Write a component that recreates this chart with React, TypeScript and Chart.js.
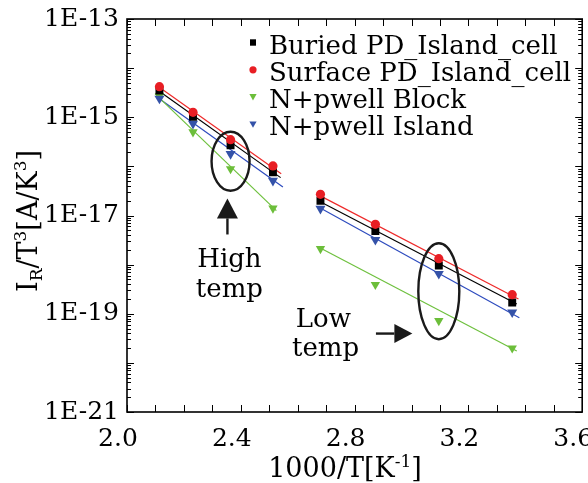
import React, { useEffect, useRef } from "react";
import { Chart, registerables } from "chart.js";

Chart.register(...registerables);

const FONT = '"DejaVu Serif", serif';

// 1000/T values (T = 473, 448, 423, 398, 373, 348, 323, 298 K)
const inverseT = [2.114, 2.232, 2.364, 2.513, 2.68, 2.873, 3.096, 3.354];

const buriedPD = [3.5e-15, 1.02e-15, 2.7e-16, 7.6e-17, 2.0e-17, 4.8e-18, 9.6e-19, 1.7e-19];
const surfacePD = [4.2e-15, 1.26e-15, 3.5e-16, 1.02e-16, 2.7e-17, 6.6e-18, 1.32e-18, 2.45e-19];
const npwellBlock = [2.7e-15, 5.0e-16, 8.9e-17, 1.4e-17, 2.1e-18, 3.9e-19, 7.2e-20, 2.0e-20];
const npwellIsland = [2.4e-15, 7.4e-16, 1.8e-16, 5.1e-17, 1.38e-17, 3.2e-18, 6.5e-19, 1.07e-19];

const seriesNames = [
  "Buried PD_Island_cell",
  "Surface PD_Island_cell",
  "N+pwell Block",
  "N+pwell Island",
];

// Fitted lines (start / end) for the high- and low-temperature ranges
const buriedFitHighX = [2.111, 2.54];
const buriedFitHighY = [3.47e-15, 5.9e-17];
const surfaceFitHighX = [2.111, 2.542];
const surfaceFitHighY = [4.17e-15, 7.1e-17];
const blockFitHighX = [2.099, 2.525];
const blockFitHighY = [3.0e-15, 1.26e-17];
const islandFitHighX = [2.105, 2.548];
const islandFitHighY = [2.57e-15, 3.8e-17];

const buriedFitLowX = [2.676, 3.37];
const buriedFitLowY = [1.95e-17, 1.58e-19];
const surfaceFitLowX = [2.676, 3.376];
const surfaceFitLowY = [2.57e-17, 2.0e-19];
const blockFitLowX = [2.676, 3.37];
const blockFitLowY = [2.24e-18, 1.74e-20];
const islandFitLowX = [2.676, 3.379];
const islandFitLowY = [1.45e-17, 8.3e-20];

const xTickValues = [2.0, 2.4, 2.8, 3.2, 3.6];
const xTickLabels = ["2.0", "2.4", "2.8", "3.2", "3.6"];
const yTickValues = [1e-21, 1e-19, 1e-17, 1e-15, 1e-13];
const yTickLabels = ["1E-21", "1E-19", "1E-17", "1E-15", "1E-13"];

const annotationTexts = ["High", "temp", "Low", "temp"];
const annotationTextX = [2.36, 2.36, 2.69, 2.698];
const annotationTextY = [8.75e-19, 2.2e-19, 5.4e-20, 1.36e-20];

const ellipseX = [2.364, 3.096];
const ellipseY = [1.27e-16, 2.88e-19];

const styles = [
  { color: "#000000", line: "#000000", pointStyle: "rect", radius: 5.6, rotation: 0, order: 2 },
  { color: "rgb(232,30,36)", line: "rgb(238,42,42)", pointStyle: "circle", radius: 4.6, rotation: 0, order: 1 },
  { color: "rgb(108,190,58)", line: "rgb(110,192,62)", pointStyle: "triangle", radius: 5.4, rotation: 180, order: 4 },
  { color: "rgb(52,82,168)", line: "rgb(45,75,190)", pointStyle: "triangle", radius: 5.8, rotation: 180, order: 3 },
];

type Seg = { t: string; dy?: number; small?: boolean };

function drawRich(ctx: CanvasRenderingContext2D, segs: Seg[], x: number, y: number, size: number) {
  const big = `${size}px ${FONT}`;
  const small = `${Math.round(size * 0.62)}px ${FONT}`;
  let total = 0;
  for (const s of segs) {
    ctx.font = s.small ? small : big;
    total += ctx.measureText(s.t).width;
  }
  let cx = x - total / 2;
  ctx.textAlign = "left";
  ctx.textBaseline = "alphabetic";
  for (const s of segs) {
    ctx.font = s.small ? small : big;
    ctx.fillText(s.t, cx, y + (s.dy || 0) * size);
    cx += ctx.measureText(s.t).width;
  }
}

function drawMarker(ctx: CanvasRenderingContext2D, kind: number, x: number, y: number) {
  const st = styles[kind];
  ctx.fillStyle = st.color;
  ctx.beginPath();
  if (st.pointStyle === "rect") {
    ctx.rect(x - 3, y - 3.2, 6, 6.4);
  } else if (st.pointStyle === "circle") {
    ctx.arc(x, y, 3.6, 0, Math.PI * 2);
  } else {
    ctx.moveTo(x - 3.6, y - 3);
    ctx.lineTo(x + 3.6, y - 3);
    ctx.lineTo(x, y + 3.4);
    ctx.closePath();
  }
  ctx.fill();
}

function drawArrow(ctx: CanvasRenderingContext2D, x1: number, y1: number, x2: number, y2: number, headLen: number, headW: number) {
  const ang = Math.atan2(y2 - y1, x2 - x1);
  const bx = x2 - headLen * Math.cos(ang);
  const by = y2 - headLen * Math.sin(ang);
  ctx.lineWidth = 2.4;
  ctx.beginPath();
  ctx.moveTo(x1, y1);
  ctx.lineTo(bx, by);
  ctx.stroke();
  const nx = -Math.sin(ang);
  const ny = Math.cos(ang);
  ctx.beginPath();
  ctx.moveTo(x2, y2);
  ctx.lineTo(bx + nx * headW / 2, by + ny * headW / 2);
  ctx.lineTo(bx - nx * headW / 2, by - ny * headW / 2);
  ctx.closePath();
  ctx.fill();
}

const decorPlugin = {
  id: "decor",
  afterDraw(chart: any) {
    const ctx: CanvasRenderingContext2D = chart.ctx;
    const { left, right, top, bottom } = chart.chartArea;
    const xs = chart.scales.x;
    const ys = chart.scales.y;
    ctx.save();
    ctx.strokeStyle = "#000";
    ctx.fillStyle = "#000";
    ctx.lineWidth = 1;

    // x ticks, inward on bottom and top
    for (let i = 0; i <= 16; i++) {
      const v = 2.0 + i * 0.1;
      const px = Math.round(xs.getPixelForValue(v)) + 0.5;
      ctx.beginPath();
      ctx.moveTo(px, bottom);
      ctx.lineTo(px, bottom - 7);
      ctx.moveTo(px, top);
      ctx.lineTo(px, top + 7);
      ctx.stroke();
    }
    // y ticks, log major + minor, inward on left and right
    for (let e = -21; e <= -13; e++) {
      for (let m = 1; m <= 9; m++) {
        if (e === -13 && m > 1) break;
        const v = m * Math.pow(10, e);
        const py = Math.round(ys.getPixelForValue(v)) + 0.5;
        const len = m === 1 ? 7 : 4;
        ctx.beginPath();
        ctx.moveTo(left, py);
        ctx.lineTo(left + len, py);
        ctx.moveTo(right, py);
        ctx.lineTo(right - len, py);
        ctx.stroke();
      }
    }
    // frame
    ctx.lineWidth = 1.6;
    ctx.strokeRect(left, top, right - left, bottom - top);

    // ellipses
    ctx.strokeStyle = "#1a1a1a";
    ctx.lineWidth = 2.4;
    const radii = [
      [19, 29.5],
      [20.5, 48],
    ];
    for (let i = 0; i < ellipseX.length; i++) {
      ctx.beginPath();
      ctx.ellipse(xs.getPixelForValue(ellipseX[i]), ys.getPixelForValue(ellipseY[i]), radii[i][0], radii[i][1], 0, 0, Math.PI * 2);
      ctx.stroke();
    }

    // arrows
    ctx.strokeStyle = "#1a1a1a";
    ctx.fillStyle = "#1a1a1a";
    const ax = xs.getPixelForValue(2.353);
    drawArrow(ctx, ax, ys.getPixelForValue(4.11e-18), ax, ys.getPixelForValue(2.23e-17), 20, 21);
    const ay = ys.getPixelForValue(3.95e-20);
    drawArrow(ctx, xs.getPixelForValue(2.875), ay, xs.getPixelForValue(3.003), ay, 18, 19);

    // annotation texts
    ctx.fillStyle = "#000";
    for (let i = 0; i < annotationTexts.length; i++) {
      drawRich(ctx, [{ t: annotationTexts[i] }], xs.getPixelForValue(annotationTextX[i]), ys.getPixelForValue(annotationTextY[i]), 26);
    }

    // legend
    for (let i = 0; i < seriesNames.length; i++) {
      const base = 53.5 + i * 27.3;
      drawMarker(ctx, i, 253, base - 11);
      ctx.fillStyle = "#000";
      ctx.font = `26px ${FONT}`;
      ctx.textAlign = "left";
      ctx.textBaseline = "alphabetic";
      ctx.fillText(seriesNames[i], 269, base);
    }

    // axis titles
    ctx.fillStyle = "#000";
    drawRich(
      ctx,
      [{ t: "1000/T[K" }, { t: "-1", small: true, dy: -0.38 }, { t: "]" }],
      345,
      477,
      27
    );
    ctx.save();
    ctx.translate(36.5, 221);
    ctx.rotate(-Math.PI / 2);
    drawRich(
      ctx,
      [
        { t: "I" },
        { t: "R", small: true, dy: 0.2 },
        { t: "/T" },
        { t: "3", small: true, dy: -0.38 },
        { t: "[A/K" },
        { t: "3", small: true, dy: -0.38 },
        { t: "]" },
      ],
      0,
      0,
      27
    );
    ctx.restore();
    ctx.restore();
  },
};

function pts(xs: number[], ys: number[]) {
  return xs.map((x, i) => ({ x, y: ys[i] }));
}

export default function App() {
  const ref = useRef<HTMLCanvasElement | null>(null);

  useEffect(() => {
    document.body.style.margin = "0";
    const canvas = ref.current;
    if (!canvas) return;

    const seriesValues = [buriedPD, surfacePD, npwellBlock, npwellIsland];
    const fitsHigh = [
      pts(buriedFitHighX, buriedFitHighY),
      pts(surfaceFitHighX, surfaceFitHighY),
      pts(blockFitHighX, blockFitHighY),
      pts(islandFitHighX, islandFitHighY),
    ];
    const fitsLow = [
      pts(buriedFitLowX, buriedFitLowY),
      pts(surfaceFitLowX, surfaceFitLowY),
      pts(blockFitLowX, blockFitLowY),
      pts(islandFitLowX, islandFitLowY),
    ];

    const datasets: any[] = [];
    for (let i = 0; i < 4; i++) {
      for (const fit of [fitsHigh[i], fitsLow[i]]) {
        datasets.push({
          label: seriesNames[i] + " fit",
          data: fit,
          showLine: true,
          borderColor: styles[i].line,
          borderWidth: 1.2,
          pointRadius: 0,
          fill: false,
          order: 10,
        });
      }
    }
    for (let i = 0; i < 4; i++) {
      datasets.push({
        label: seriesNames[i],
        data: pts(inverseT, seriesValues[i]),
        showLine: false,
        pointStyle: styles[i].pointStyle,
        pointRotation: styles[i].rotation,
        pointRadius: styles[i].radius,
        backgroundColor: styles[i].color,
        borderColor: styles[i].color,
        borderWidth: 0,
        order: styles[i].order,
      });
    }

    const chart = new Chart(canvas, {
      type: "scatter",
      data: { datasets },
      options: {
        animation: false,
        responsive: false,
        devicePixelRatio: 1,
        layout: { padding: { top: 19, right: 4, left: 0, bottom: 0 } },
        plugins: {
          legend: { display: false },
          tooltip: { enabled: false },
        },
        scales: {
          x: {
            type: "linear",
            min: 2.0,
            max: 3.6,
            afterBuildTicks: (scale: any) => {
              scale.ticks = xTickValues.map((v) => ({ value: v }));
            },
            afterFit: (scale: any) => {
              scale.height = 71;
              scale.paddingLeft = 0;
              scale.paddingRight = 0;
            },
            grid: { display: false, drawTicks: false },
            border: { display: false },
            ticks: {
              autoSkip: false,
              maxRotation: 0,
              padding: 12,
              labelOffset: -9,
              color: "#000",
              font: { family: FONT, size: 25 },
              callback: (_v: any, index: number) => xTickLabels[index],
            },
          },
          y: {
            type: "logarithmic",
            min: 1e-21,
            max: 1e-13,
            afterBuildTicks: (scale: any) => {
              scale.ticks = yTickValues.map((v) => ({ value: v }));
            },
            afterFit: (scale: any) => {
              scale.width = 127;
              scale.paddingTop = 0;
              scale.paddingBottom = 0;
            },
            grid: { display: false, drawTicks: false },
            border: { display: false },
            ticks: {
              autoSkip: false,
              padding: 8,
              color: "#000",
              font: { family: FONT, size: 25 },
              callback: (_v: any, index: number) => yTickLabels[index],
            },
          },
        },
      },
      plugins: [decorPlugin],
    });

    return () => chart.destroy();
  }, []);

  return (
    <div style={{ width: 588, height: 483, background: "#fff" }}>
      <canvas ref={ref} width={588} height={483} style={{ display: "block" }} />
    </div>
  );
}
